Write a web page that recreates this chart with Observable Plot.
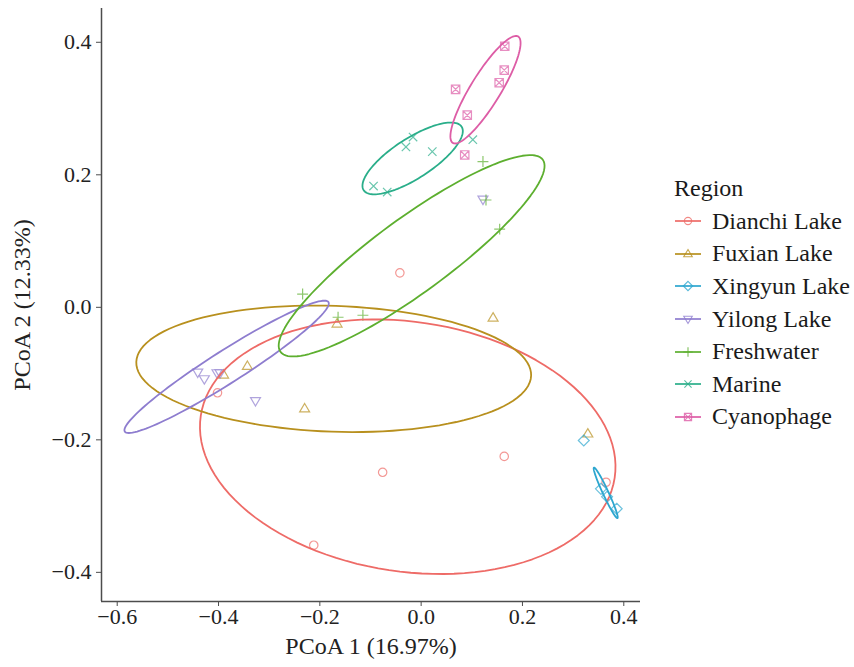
<!DOCTYPE html>
<html>
<head>
<meta charset="utf-8">
<script src="https://cdn.jsdelivr.net/npm/d3@7"></script>
<script src="https://cdn.jsdelivr.net/npm/@observablehq/plot@0.6"></script>
<style>
  body { margin: 0; background: #fff; font-family: "Liberation Serif", "DejaVu Serif", serif; }
  #wrap { position: relative; width: 854px; height: 667px; }
  #legend { position: absolute; left: 674px; top: 172px; font-family: "Liberation Serif", serif; color: #1a1a1a; }
  #legend .title { font-size: 24px; height: 33px; line-height: 33px; }
  #legend .row { display: flex; align-items: center; height: 32.6px; font-size: 24px; }
  #legend svg { margin-right: 10px; }
</style>
</head>
<body>
<div id="wrap"><div id="chart"></div><div id="legend"></div></div>
<script>
// ---- data ----
const groups = ["Dianchi Lake", "Fuxian Lake", "Xingyun Lake", "Yilong Lake", "Freshwater", "Marine", "Cyanophage"];
const groupColors = ["#EE6B67", "#B8901E", "#2CA6CF", "#8E7DCF", "#5DAF2F", "#2AAE8A", "#DD5DA6"];

const dianchiX = [-0.042, -0.402, -0.076, -0.212, 0.164, 0.365];
const dianchiY = [0.052, -0.129, -0.249, -0.359, -0.225, -0.264];
const fuxianX = [-0.390, -0.343, -0.230, -0.166, 0.142, 0.329];
const fuxianY = [-0.102, -0.089, -0.153, -0.025, -0.016, -0.191];
const xingyunX = [0.321, 0.355, 0.367, 0.386];
const xingyunY = [-0.201, -0.274, -0.286, -0.304];
const yilongX = [0.122, -0.441, -0.428, -0.403, -0.397, -0.327];
const yilongY = [0.163, -0.098, -0.108, -0.099, -0.099, -0.141];
const freshwaterX = [0.122, 0.128, 0.155, -0.234, -0.164, -0.115];
const freshwaterY = [0.220, 0.162, 0.118, 0.020, -0.015, -0.012];
const marineX = [-0.016, -0.030, 0.022, -0.094, -0.067, 0.102];
const marineY = [0.257, 0.242, 0.235, 0.183, 0.174, 0.253];
const cyanophageX = [0.165, 0.164, 0.154, 0.068, 0.091, 0.086];
const cyanophageY = [0.394, 0.358, 0.339, 0.329, 0.290, 0.230];

// ellipse (per group): centre and two conjugate semi-axis vectors, data units
const ellipseCX = [-0.0265, -0.1726, 0.3643, -0.384, -0.0188, -0.0168, 0.127];
const ellipseCY = [-0.2104, -0.0928, -0.280, -0.0898, 0.0778, 0.2247, 0.3284];
const ellipseAX = [0.4085, 0.3897, 0.0232, 0.2010, 0.2588, 0.0967, 0.0645];
const ellipseAY = [-0.04698, -0.01039, -0.0381, 0.0977, 0.1451, 0.0479, 0.0803];
const ellipseBX = [-0.03678, -0.00434, 0.00501, 0.01722, 0.0435, 0.0215, 0.02525];
const ellipseBY = [-0.1863, -0.0949, 0.00178, -0.02066, -0.0452, -0.0253, -0.01182];

const xTicks = [-0.6, -0.4, -0.2, 0.0, 0.2, 0.4];
const yTicks = [-0.4, -0.2, 0.0, 0.2, 0.4];
const xLabel = "PCoA 1 (16.97%)";
const yLabel = "PCoA 2 (12.33%)";
const legendTitle = "Region";

// ---- symbols ----
function rOf(size) { return Math.sqrt(size / Math.PI); }
const symCircle = { draw(c, size) { const r = rOf(size); c.moveTo(r, 0); c.arc(0, 0, r, 0, 2 * Math.PI); } };
const symTriUp = { draw(c, size) { const r = rOf(size) * 1.25; c.moveTo(0, -r); c.lineTo(r * 0.95, r * 0.6); c.lineTo(-r * 0.95, r * 0.6); c.closePath(); } };
const symTriDown = { draw(c, size) { const r = rOf(size) * 1.25; c.moveTo(0, r); c.lineTo(r * 0.95, -r * 0.6); c.lineTo(-r * 0.95, -r * 0.6); c.closePath(); } };
const symDiamond = { draw(c, size) { const r = rOf(size) * 1.3; c.moveTo(0, -r); c.lineTo(r, 0); c.lineTo(0, r); c.lineTo(-r, 0); c.closePath(); } };
const symPlus = { draw(c, size) { const r = rOf(size) * 1.3; c.moveTo(-r, 0); c.lineTo(r, 0); c.moveTo(0, -r); c.lineTo(0, r); } };
const symTimes = { draw(c, size) { const r = rOf(size) * 1.0; c.moveTo(-r, -r); c.lineTo(r, r); c.moveTo(r, -r); c.lineTo(-r, r); } };
const symSquareX = { draw(c, size) { const r = rOf(size) * 1.0; c.moveTo(-r, -r); c.lineTo(r, -r); c.lineTo(r, r); c.lineTo(-r, r); c.closePath(); c.moveTo(-r, -r); c.lineTo(r, r); c.moveTo(r, -r); c.lineTo(-r, r); } };
const groupSymbols = [symCircle, symTriUp, symDiamond, symTriDown, symPlus, symTimes, symSquareX];

// ---- build tables ----
const xs = [dianchiX, fuxianX, xingyunX, yilongX, freshwaterX, marineX, cyanophageX];
const ys = [dianchiY, fuxianY, xingyunY, yilongY, freshwaterY, marineY, cyanophageY];
const points = [];
groups.forEach((g, i) => xs[i].forEach((x, j) => points.push({ group: g, gi: i, x, y: ys[i][j] })));

const ellipsePts = [];
groups.forEach((g, i) => {
  const n = 120;
  for (let k = 0; k <= n; k++) {
    const t = 2 * Math.PI * k / n;
    ellipsePts.push({
      group: g,
      x: ellipseCX[i] + ellipseAX[i] * Math.cos(t) + ellipseBX[i] * Math.sin(t),
      y: ellipseCY[i] + ellipseAY[i] * Math.cos(t) + ellipseBY[i] * Math.sin(t)
    });
  }
});

const fmt = d3.format(".1f");
const axisColor = "#4d4d4d";

const chart = Plot.plot({
  width: 654,
  height: 667,
  marginLeft: 101,
  marginRight: 14,
  marginTop: 8,
  marginBottom: 66,
  style: { fontFamily: "Liberation Serif, serif", fontSize: "22px", color: "#222", background: "#fff" },
  x: { domain: [-0.631, 0.433], ticks: xTicks, tickFormat: fmt, label: null },
  y: { domain: [-0.444, 0.451], ticks: yTicks, tickFormat: fmt, label: null },
  color: { domain: groups, range: groupColors },
  symbol: { domain: groups, range: groupSymbols },
  marks: [
    Plot.dot(points, { x: "x", y: "y", stroke: "group", symbol: "group", r: 4.2, strokeWidth: 1.2, strokeOpacity: 0.7 }),
    Plot.line(ellipsePts, { x: "x", y: "y", z: "group", stroke: "group", strokeWidth: 1.8, curve: "linear" }),
    Plot.axisX({ ticks: xTicks, tickFormat: fmt, tickSize: 5, tickPadding: 2, stroke: axisColor, fontSize: 22, fill: "#222", label: null }),
    Plot.axisY({ ticks: yTicks, tickFormat: fmt, tickSize: 5, tickPadding: 5, stroke: axisColor, fontSize: 22, fill: "#222", label: null }),
    Plot.ruleX([-0.631], { stroke: axisColor, strokeWidth: 1.5 }),
    Plot.ruleY([-0.444], { stroke: axisColor, strokeWidth: 1.5 }),
    Plot.text([xLabel], { frameAnchor: "bottom", lineAnchor: "middle", textAnchor: "middle", dy: 45, fontSize: 24, fill: "#222", text: d => d }),
    Plot.text([yLabel], { frameAnchor: "left", lineAnchor: "middle", textAnchor: "middle", dx: -79, rotate: -90, fontSize: 24, fill: "#222", text: d => d })
  ]
});
document.getElementById("chart").appendChild(chart);

// ---- legend ----
const leg = d3.select("#legend");
leg.append("div").attr("class", "title").text(legendTitle);
groups.forEach((g, i) => {
  const row = leg.append("div").attr("class", "row");
  const svg = row.append("svg").attr("width", 28).attr("height", 20);
  svg.append("line").attr("x1", 1).attr("x2", 27).attr("y1", 10).attr("y2", 10)
    .attr("stroke", groupColors[i]).attr("stroke-width", 1.7);
  svg.append("path").attr("transform", "translate(14,10)")
    .attr("d", d3.symbol(groupSymbols[i], Math.PI * 3.6 * 3.6)())
    .attr("fill", "none").attr("stroke", groupColors[i]).attr("stroke-width", 1.1).attr("stroke-opacity", 0.8);
  row.append("span").text(g);
});
</script>
</body>
</html>
